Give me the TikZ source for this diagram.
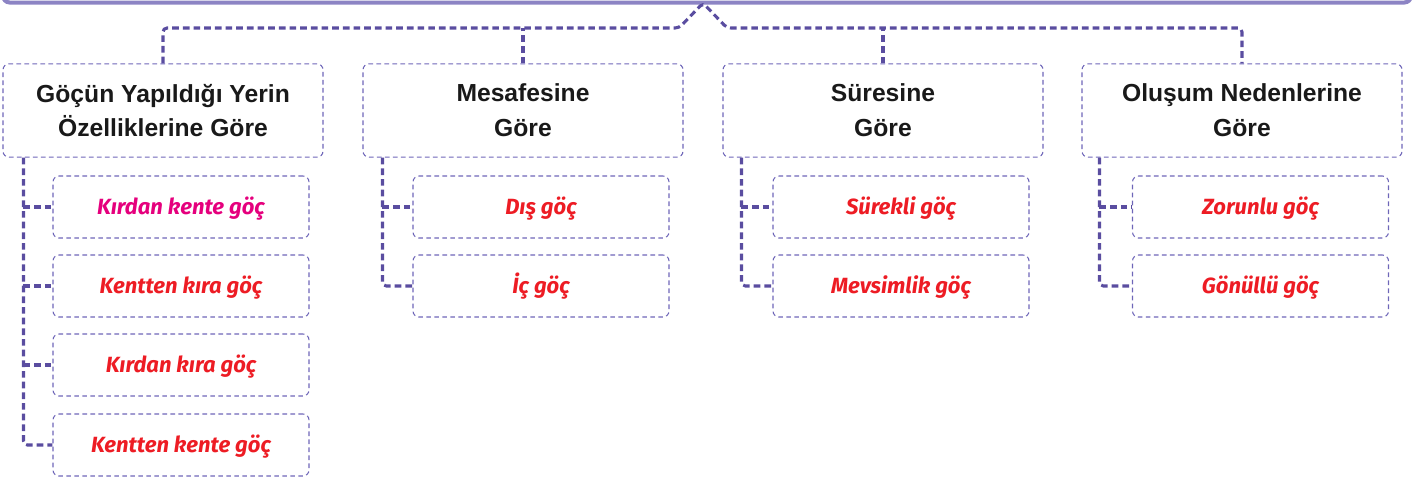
\documentclass[tikz,border=0pt]{standalone}
\usepackage{fontspec}
\setmainfont{Liberation Sans}
\newfontfamily\gocfont{Fira Sans}
\usetikzlibrary{positioning}
\definecolor{barcol}{HTML}{8C84C4}
\definecolor{linkcol}{HTML}{5A4DA0}
\definecolor{boxcol}{HTML}{6E66B8}
\definecolor{gocred}{HTML}{ED1C24}
\definecolor{gocpink}{HTML}{E5007D}

\begin{document}
\begin{tikzpicture}[x=0.75pt, y=-0.75pt,
  headbox/.style={draw=boxcol, line width=0.8pt, dash pattern=on 3.5pt off 2.5pt, rounded corners=4.5pt, minimum width=240pt, minimum height=70pt, align=center, text=black!90, font=\bfseries\fontsize{18.5}{26}\selectfont},
  subbox/.style={draw=boxcol, line width=0.8pt, dash pattern=on 3.5pt off 2.5pt, rounded corners=4.5pt, minimum width=192pt, minimum height=46.5pt, text height=11.7pt, text depth=0pt, text=gocred, font=\gocfont\bfseries\itshape\fontsize{16.5}{20}\selectfont},
  link/.style={draw=linkcol, line width=2.3pt, dash pattern=on 5pt off 3pt, rounded corners=3pt}]
    \useasboundingbox (0,0) rectangle (1416,480);

    \draw [barcol, line width=3pt, rounded corners=5pt] (3,-20) |- (1411,2.5) -- (1411,-20);

    \node (yer) at (163,110.5) [headbox] {Göçün Yapıldığı Yerin\\Özelliklerine Göre};
    \node (mesafe) at (523,110.5) [headbox] {Mesafesine\\Göre};
    \node (sure) at (883,110.5) [headbox] {Süresine\\Göre};
    \node (neden) at (1242,110.5) [headbox] {Oluşum Nedenlerine\\Göre};

    \coordinate (tip) at (703,3);
    \coordinate (lsh) at (679,28);
    \coordinate (rsh) at (727,28);
    \draw [link] (yer.north) |- (lsh) -- (tip) -- (rsh) -| (neden.north);
    \draw [link, rounded corners=0pt] (mesafe.north) -- (mesafe.north |- lsh);
    \draw [link, rounded corners=0pt] (sure.north) -- (sure.north |- rsh);

    \node (kirkent) at (181,207) [subbox, text=gocpink] {Kırdan kente göç};
    \node (kentkir) at (181,286) [subbox] {Kentten kıra göç};
    \node (kirkir) at (181,365) [subbox] {Kırdan kıra göç};
    \node (kentkent) at (181,445) [subbox] {Kentten kente göç};

    \node (dis) at (541,207) [subbox] {Dış göç};
    \node (ic) at (541,286) [subbox] {İç göç};

    \node (surekli) at (901,207) [subbox] {Sürekli göç};
    \node (mevsim) at (901,286) [subbox] {Mevsimlik göç};

    \node (zorunlu) at (1260.5,207) [subbox] {Zorunlu göç};
    \node (gonullu) at (1260.5,286) [subbox] {Gönüllü göç};

    \coordinate (yerbus) at ([xshift=15.75pt]yer.south west);
    \coordinate (mesafebus) at ([xshift=15pt]mesafe.south west);
    \coordinate (surebus) at ([xshift=14.25pt]sure.south west);
    \coordinate (nedenbus) at ([xshift=13.5pt]neden.south west);

    \draw [link] (yerbus) |- (kentkent.west);
    \draw [link] (yerbus |- kirkent.west) -- (kirkent.west);
    \draw [link] (yerbus |- kentkir.west) -- (kentkir.west);
    \draw [link] (yerbus |- kirkir.west) -- (kirkir.west);

    \draw [link] (mesafebus) |- (ic.west);
    \draw [link] (mesafebus |- dis.west) -- (dis.west);

    \draw [link] (surebus) |- (mevsim.west);
    \draw [link] (surebus |- surekli.west) -- (surekli.west);

    \draw [link] (nedenbus) |- (gonullu.west);
    \draw [link] (nedenbus |- zorunlu.west) -- (zorunlu.west);
\end{tikzpicture}
\end{document}
